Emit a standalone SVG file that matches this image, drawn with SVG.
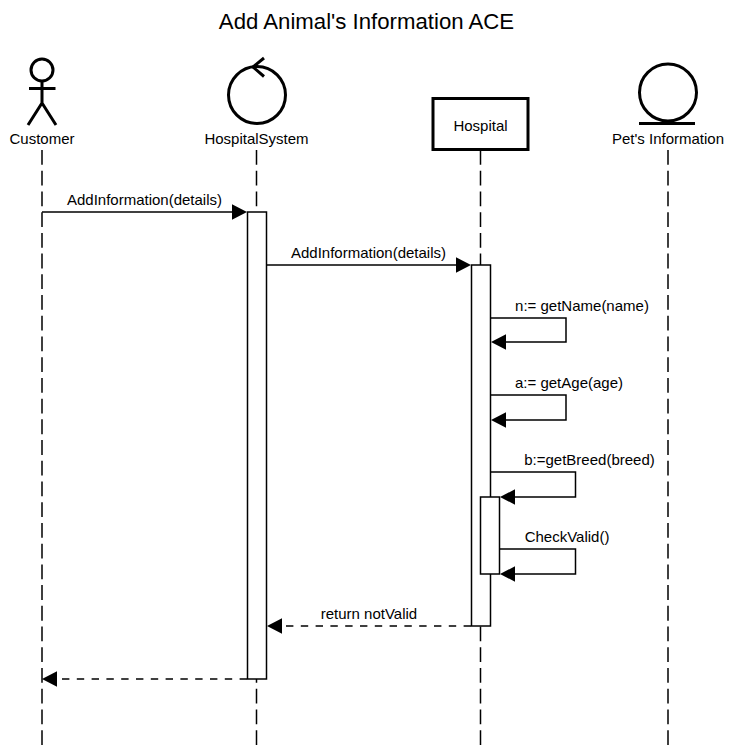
<svg xmlns="http://www.w3.org/2000/svg" width="733" height="745" viewBox="0 0 733 745">
<style>
text{font-family:"Liberation Sans",Arial,sans-serif;font-size:15px;fill:#000;text-anchor:middle}
.t{font-size:22.2px}
.life{fill:none;stroke:#000;stroke-width:1.5;stroke-dasharray:14.8 5.92}
.fig{fill:none;stroke:#000;stroke-width:3}
.box{fill:#fff;stroke:#000;stroke-width:1.5}
.m{fill:none;stroke:#000;stroke-width:1.5}
.d{stroke-dasharray:7.4 7.4}
.a{fill:#000;stroke:none}
</style>
<rect width="733" height="745" fill="#fff"/>
<text class="t" x="366.500" y="29">Add Animal's Information ACE</text>
<g id="lifelines">
<path class="life" d="M42 150V745"/>
<path class="life" d="M256.500 150V745"/>
<path class="life" d="M480.500 150V745"/>
<path class="life" d="M668 150V745"/>
</g>
<g id="customer">
<circle class="fig" cx="42" cy="70" r="11"/>
<path class="fig" d="M42 81V103M29 88.500H55.500M28 125L42 103L56 125"/>
<text x="42" y="144">Customer</text>
</g>
<g id="hospitalsystem">
<circle class="fig" cx="257" cy="95" r="28.500"/>
<path class="fig" d="M264 58L253 67L264 76.500"/>
<text x="256.500" y="144">HospitalSystem</text>
</g>
<g id="hospital">
<rect x="433" y="98.500" width="95" height="51" fill="#fff" stroke="#000" stroke-width="3"/>
<text x="480.500" y="131">Hospital</text>
</g>
<g id="petsinformation">
<circle class="fig" cx="668" cy="92.500" r="28.500"/>
<path class="fig" d="M639 123.500H695"/>
<text x="668" y="144">Pet's Information</text>
</g>
<g id="activations">
<rect class="box" x="247.500" y="212" width="19" height="467"/>
<rect class="box" x="471.500" y="265" width="19" height="361"/>
<rect class="box" x="480.500" y="497" width="19" height="77"/>
</g>
<g id="connectors">
<path class="m" d="M42 212H233"/><path class="a" d="M247 212L232 204.300V219.700Z"/>
<path class="m" d="M266.500 265H457"/><path class="a" d="M471 265L456 257.300V272.700Z"/>
<path class="m" d="M490.500 318H566V342H505"/><path class="a" d="M491 342L506 334.300V349.700Z"/>
<path class="m" d="M490.500 395H566V420H505"/><path class="a" d="M491 420L506 412.300V427.700Z"/>
<path class="m" d="M490.500 472H575.500V497H514"/><path class="a" d="M500 497L515 489.300V504.700Z"/>
<path class="m" d="M499.500 549H575.500V574H514"/><path class="a" d="M500 574L515 566.300V581.700Z"/>
<path class="m d" d="M471 626H281"/><path class="a" d="M267 626L282 618.300V633.700Z"/>
<path class="m d" d="M247 679H57"/><path class="a" d="M42 679L57 671.300V686.700Z"/>
</g>
<g id="labels">
<text x="144.500" y="205">AddInformation(details)</text>
<text x="368.500" y="258">AddInformation(details)</text>
<text x="582" y="311">n:= getName(name)</text>
<text x="569" y="388">a:= getAge(age)</text>
<text x="589.500" y="465">b:=getBreed(breed)</text>
<text x="567" y="542">CheckValid()</text>
<text x="369" y="619">return notValid</text>
</g>
</svg>
